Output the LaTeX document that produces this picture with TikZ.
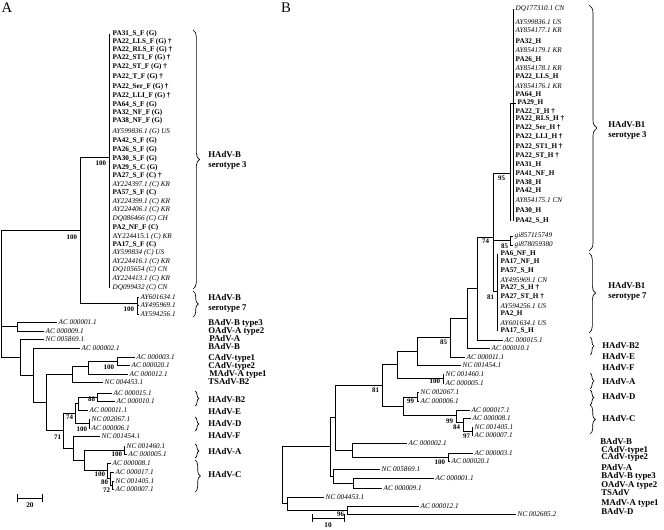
\documentclass[tikz,border=0pt]{standalone}
\usepackage{fontspec}
\setmainfont{Liberation Serif}
\usetikzlibrary{decorations.pathreplacing}

\begin{document}
\begin{tikzpicture}[x=0.75pt,y=0.75pt,yscale=-1,xscale=1,line width=0.55pt,
  every node/.style={inner sep=1pt},
  acc/.style={font=\fontsize{5.4}{6}\selectfont\itshape,anchor=west},
  iso/.style={font=\fontsize{5.4}{6}\selectfont\bfseries,anchor=west},
  boot/.style={font=\fontsize{5.2}{6}\selectfont\bfseries,anchor=east,inner sep=0.5pt},
  grp/.style={font=\fontsize{6.6}{7.6}\selectfont\bfseries,anchor=west,align=left,inner sep=0pt},
  clade/.style={decorate,decoration={brace,amplitude=#1},line width=0.5pt},
  clade/.default=4pt]
\useasboundingbox (0,0) rectangle (664,530);

% Panel letters
\node (capA) at (7,8) {\fontsize{11}{12}\selectfont A};
\node (capB) at (286,8) {\fontsize{11}{12}\selectfont B};

%%%%%%%%%%%%%%%%%%%%%%%%%%%%%%%% Panel A

% Text Node -- serotype 3 leaves
\node[iso] (a1) at (111,34) {PA31\_S\_F (G)};
\node[iso] (a2) at (111,42) {PA22\_LLS\_F (G) †};
\node[iso] (a3) at (111,50) {PA22\_RLS\_F (G) †};
\node[iso] (a4) at (111,58) {PA22\_ST1\_F (G) †};
\node[iso] (a5) at (111,67) {PA22\_ST\_F (G) †};
\node[iso] (a6) at (111,77) {PA22\_T\_F (G) †};
\node[iso] (a7) at (111,87) {PA22\_Ser\_F (G) †};
\node[iso] (a8) at (111,96) {PA22\_LLI\_F (G) †};
\node[iso] (a9) at (111,105) {PA64\_S\_F (G)};
\node[iso] (a10) at (111,113) {PA32\_NF\_F (G)};
\node[iso] (a11) at (111,121) {PA38\_NF\_F (G)};
\node[acc] (a12) at (111,132) {AY599836.1 (G) US};
\node[iso] (a13) at (111,141) {PA42\_S\_F (G)};
\node[iso] (a14) at (111,150) {PA26\_S\_F (G)};
\node[iso] (a15) at (111,159) {PA30\_S\_F (G)};
\node[iso] (a16) at (111,168) {PA29\_S\_C (G)};
\node[iso] (a17) at (111,176) {PA27\_S\_F (C) †};
\node[acc] (a18) at (111,185) {AY224397.1 (C) KR};
\node[iso] (a19) at (111,193) {PA57\_S\_F (C)};
\node[acc] (a20) at (111,202) {AY224399.1 (C) KR};
\node[acc] (a21) at (111,210) {AY224406.1 (C) KR};
\node[acc] (a22) at (111,219) {DQ086466 (C) CH};
\node[iso] (a23) at (111,228) {PA2\_NF\_F (C)};
\node[acc] (a24) at (111,237) {{\upshape AY224415.1} (C) KR};
\node[iso] (a25) at (111,245) {PA17\_S\_F (C)};
\node[acc] (a26) at (111,253) {AY599834 (C) US};
\node[acc] (a27) at (111,262) {AY224416.1 (C) KR};
\node[acc] (a28) at (111,270) {DQ105654 (C) CN};
\node[acc] (a29) at (111,279) {AY224413.1 (C) KR};
\node[acc] (a30) at (111,288) {DQ099432 (C) CN};
% Text Node -- other leaves
\node[acc] (a31) at (139,297) {AY601634.1};
\node[acc] (a32) at (139,305) {AY495969.1};
\node[acc] (a33) at (139,314) {AY594256.1};
\node[acc] (a34) at (57,322) {AC 000001.1};
\node[acc] (a35) at (44,331) {AC 000009.1};
\node[acc] (a36) at (44,339) {NC 005869.1};
\node[acc] (a37) at (80,348) {AC 000002.1};
\node[acc] (a38) at (103,382) {NC 004453.1};
\node[acc] (a39) at (128,374) {AC 000012.1};
\node[acc] (a40) at (135,357) {AC 000003.1};
\node[acc] (a41) at (130,365) {AC 000020.1};
\node[acc] (a42) at (88,410) {AC 000011.1};
\node[acc] (a43) at (112,393) {AC 000015.1};
\node[acc] (a44) at (115,401) {AC 000010.1};
\node[acc] (a45) at (90,419) {NC 002067.1};
\node[acc] (a46) at (90,428) {AC 000006.1};
\node[acc] (a47) at (100,436) {NC 001454.1};
\node[acc] (a48) at (125,446) {NC 001460.1};
\node[acc] (a49) at (127,454) {AC 000005.1};
\node[acc] (a50) at (111,463) {AC 000008.1};
\node[acc] (a51) at (114,472) {AC 000017.1};
\node[acc] (a52) at (114,481) {NC 001405.1};
\node[acc] (a53) at (114,489) {AC 000007.1};

% internal nodes
\coordinate (rA) at (1,293);
\coordinate (nBA) at (80,230);
\coordinate (c3) at (109,157);
\coordinate (c7) at (137,303);
\coordinate (n1) at (17,326);
\coordinate (n2) at (20,357);
\coordinate (n3) at (33,375);
\coordinate (n4) at (46,402);
\coordinate (n5) at (72,374);
\coordinate (n7) at (88,366);
\coordinate (n8) at (117,361);
\coordinate (n6) at (63,430);
\coordinate (n74) at (75,413);
\coordinate (nE) at (78,403);
\coordinate (n88) at (97,397);
\coordinate (nD) at (89,423);
\coordinate (nF) at (73,448);
\coordinate (nAC) at (84,460);
\coordinate (nA) at (124,450);
\coordinate (nC) at (107,470);
\coordinate (n80) at (110,478);
\coordinate (n72) at (112,485);

% Connection
\draw (rA) |- (nBA) (rA) |- (n1) (rA) |- (n2);
\draw (nBA) |- (c3) (nBA) |- (c7);
\draw (a1.west -| c3) -- (a30.west -| c3);
\draw (c7) |- (a31.west) (c7) |- (a32.west) (c7) |- (a33.west);
\draw (n1) |- (a34.west) (n1) |- (a35.west);
\draw (n2) |- (a36.west) (n2) |- (n3);
\draw (n3) |- (a37.west) (n3) |- (n4);
\draw (n4) |- (n5) (n4) |- (n6);
\draw (n5) |- (n7) (n5) |- (a38.west);
\draw (n7) |- (n8) (n7) |- (a39.west);
\draw (n8) |- (a40.west) (n8) |- (a41.west);
\draw (n6) |- (n74) (n6) |- (nF);
\draw (n74) |- (nE) (n74) |- (nD);
\draw (nE) |- (n88) (nE) |- (a42.west);
\draw (n88) |- (a43.west) (n88) |- (a44.west);
\draw (nD) |- (a45.west) (nD) |- (a46.west);
\draw (nF) |- (a47.west) (nF) |- (nAC);
\draw (nAC) |- (nA) (nAC) |- (nC);
\draw (nA) |- (a48.west) (nA) |- (a49.west);
\draw (nC) |- (a50.west) (nC) |- (n80);
\draw (n80) |- (a51.west) (n80) |- (n72);
\draw (n72) |- (a52.west) (n72) |- (a53.west);

% bootstrap values
\node[boot] (bA1) at (107,163) {100};
\node[boot] (bA2) at (78,237) {100};
\node[boot] (bA3) at (135,309) {100};
\node[boot] (bA4) at (115,367) {100};
\node[boot] (bA5) at (96,399) {88};
\node[boot] (bA6) at (74,417) {74};
\node[boot] (bA7) at (88,429) {100};
\node[boot] (bA8) at (62,437) {71};
\node[boot] (bA9) at (123,454) {100};
\node[boot] (bA10) at (106,474) {100};
\node[boot] (bA11) at (109,482) {80};
\node[boot] (bA12) at (111,490) {72};

% braces and groups
\draw[clade=5pt] (193,30) -- (193,289);
\draw[clade] (193,291) -- (193,317);
\draw[clade=3pt] (195,391) -- (195,406);
\draw[clade=3pt] (195,417) -- (195,431);
\draw[clade=3pt] (195,444) -- (195,458);
\draw[clade] (195,460) -- (195,492);
\node[grp] (gA1) at (208,160) {HAdV-B\\serotype 3};
\node[grp] (gA2) at (208,303) {HAdV-B\\serotype 7};
\node[grp] (gA3) at (208,323) {BAdV-B type3};
\node[grp] (gA4) at (208,331) {OAdV-A type2};
\node[grp] (gA5) at (209,339) {PAdV-A};
\node[grp] (gA6) at (208,347) {BAdV-B};
\node[grp] (gA7) at (208,358) {CAdV-type1};
\node[grp] (gA8) at (208,366) {CAdV-type2};
\node[grp] (gA9) at (209,374) {MAdV-A type1};
\node[grp] (gA10) at (208,382) {TSAdV-B2};
\node[grp] (gA11) at (208,400) {HAdV-B2};
\node[grp] (gA12) at (208,412) {HAdV-E};
\node[grp] (gA13) at (208,424) {HAdV-D};
\node[grp] (gA14) at (208,436) {HAdV-F};
\node[grp] (gA15) at (208,452) {HAdV-A};
\node[grp] (gA16) at (208,475) {HAdV-C};

% scale bar
\coordinate (sA1) at (17,498);
\coordinate (sA2) at (43,498);
\draw[|-|,line width=0.5pt] (sA1) -- (sA2);
\node[font=\fontsize{5.4}{6}\selectfont\bfseries] (sA) at (30,505) {20};

%%%%%%%%%%%%%%%%%%%%%%%%%%%%%%%% Panel B

% Text Node -- serotype 3 leaves
\node[acc] (h1) at (514,9) {DQ177310.1 CN};
\node[acc] (h2) at (514,22) {AY599836.1 US};
\node[acc] (h3) at (514,30) {AY854177.1 KR};
\node[iso] (h4) at (514,42) {PA32\_H};
\node[acc] (h5) at (514,50) {AY854179.1 KR};
\node[iso] (h6) at (514,60) {PA26\_H};
\node[acc] (h7) at (514,68) {AY854178.1 KR};
\node[iso] (h8) at (514,77) {PA22\_LLS\_H};
\node[acc] (h9) at (514,86) {AY854176.1 KR};
\node[iso] (h10) at (514,95) {PA64\_H};
\node[iso] (h11) at (516,103) {PA29\_H};
\node[iso] (h12) at (514,112) {PA22\_T\_H †};
\node[iso] (h13) at (514,119) {PA22\_RLS\_H †};
\node[iso] (h14) at (514,128) {PA22\_Ser\_H †};
\node[iso] (h15) at (514,137) {PA22\_LLI\_H †};
\node[iso] (h16) at (514,147) {PA22\_ST1\_H †};
\node[iso] (h17) at (514,156) {PA22\_ST\_H †};
\node[iso] (h18) at (514,165) {PA31\_H};
\node[iso] (h19) at (514,174) {PA41\_NF\_H};
\node[iso] (h20) at (514,183) {PA38\_H};
\node[iso] (h21) at (514,191) {PA42\_H};
\node[acc] (h22) at (514,200) {AY854175.1 CN};
\node[iso] (h23) at (514,211) {PA30\_H};
\node[iso] (h24) at (514,221) {PA42\_S\_H};
\node[acc] (h25) at (513,236) {gi857115749};
\node[acc] (h26) at (513,245) {gi878059380};
% Text Node -- serotype 7 leaves
\node[iso] (h27) at (499,254) {PA6\_NF\_H};
\node[iso] (h28) at (499,262) {PA17\_NF\_H};
\node[iso] (h29) at (499,271) {PA57\_S\_H};
\node[acc] (h30) at (499,280) {AY495969.1 CN};
\node[iso] (h31) at (499,288) {PA27\_S\_H †};
\node[iso] (h32) at (499,297) {PA27\_ST\_H †};
\node[acc] (h33) at (499,306) {AY594256.1 US};
\node[iso] (h34) at (499,314) {PA2\_H};
\node[acc] (h35) at (499,323) {AY601634.1 US};
\node[iso] (h36) at (499,331) {PA17\_S\_H};
% Text Node -- other leaves
\node[acc] (h37) at (503,340) {AC 000015.1};
\node[acc] (h38) at (490,348) {AC 000010.1};
\node[acc] (h39) at (465,357) {AC 000011.1};
\node[acc] (h40) at (461,365) {NC 001454.1};
\node[acc] (h41) at (444,374) {NC 001460.1};
\node[acc] (h42) at (444,383) {AC 000005.1};
\node[acc] (h43) at (419,392) {NC 002067.1};
\node[acc] (h44) at (419,401) {AC 000006.1};
\node[acc] (h45) at (470,410) {AC 000017.1};
\node[acc] (h46) at (471,418) {AC 000008.1};
\node[acc] (h47) at (473,427) {NC 001405.1};
\node[acc] (h48) at (473,435) {AC 000007.1};
\node[acc] (h49) at (407,443) {AC 000002.1};
\node[acc] (h50) at (473,453) {AC 000003.1};
\node[acc] (h51) at (450,461) {AC 000020.1};
\node[acc] (h52) at (380,469) {NC 005869.1};
\node[acc] (h53) at (434,478) {AC 000001.1};
\node[acc] (h54) at (382,488) {AC 000009.1};
\node[acc] (h55) at (324,497) {NC 004453.1};
\node[acc] (h56) at (419,506) {AC 000012.1};
\node[acc] (h57) at (516,514) {NC 002685.2};

% internal nodes
\coordinate (rB) at (282,475);
\coordinate (Ntop) at (330,446);
\coordinate (Nb) at (287,503);
\coordinate (N96) at (347,510);
\coordinate (N335) at (335,417);
\coordinate (N5869) at (333,476);
\coordinate (NAC1) at (353,483);
\coordinate (NAC2) at (352,450);
\coordinate (N100b) at (448,457);
\coordinate (N81) at (382,385);
\coordinate (NEFA) at (397,364);
\coordinate (NE2) at (417,351);
\coordinate (NA) at (443,378);
\coordinate (N85) at (450,337);
\coordinate (NX) at (467,318);
\coordinate (N74) at (477,288);
\coordinate (N95) at (493,237);
\coordinate (s3) at (510,173);
\coordinate (s3b) at (513,100);
\coordinate (sgi) at (510,240);
\coordinate (s7) at (497,291);
\coordinate (NDC) at (403,406);
\coordinate (ND) at (417,397);
\coordinate (N99) at (456,415);
\coordinate (N84) at (463,422);
\coordinate (N97) at (472,431);

% Connection
\draw (rB) |- (Ntop) (rB) |- (Nb);
\draw (Ntop) |- (N335) (Ntop) |- (N5869);
\draw (N335) |- (N81) (N335) |- (NAC2);
\draw (N81) |- (NEFA) (N81) |- (NDC);
\draw (NEFA) |- (NE2) (NEFA) |- (NA);
\draw (NE2) |- (N85) (NE2) |- (h40.west);
\draw (N85) |- (NX) (N85) |- (h39.west);
\draw (NX) |- (N74) (NX) |- (h38.west);
\draw (N74) |- (N95) (N74) |- (h37.west);
\draw (N95) |- (s3) (N95) |- (sgi) (N95) |- (s7);
\draw (h1.west -| s3b) -- (h24.west -| s3b);
\draw (h11.west -| s3) -- (h24.west -| s3);
\draw (h11.west -| s3) -- (h11.west);
\draw (sgi) |- (h25.west) (sgi) |- (h26.west);
\draw (h27.west -| s7) -- (h36.west -| s7);
\draw (NA) |- (h41.west) (NA) |- (h42.west);
\draw (NDC) |- (ND) (NDC) |- (N99);
\draw (ND) |- (h43.west) (ND) |- (h44.west);
\draw (N99) |- (h45.west) (N99) |- (N84);
\draw (N84) |- (h46.west) (N84) |- (N97);
\draw (N97) |- (h47.west) (N97) |- (h48.west);
\draw (NAC2) |- (h49.west) (NAC2) |- (N100b);
\draw (N100b) |- (h50.west) (N100b) |- (h51.west);
\draw (N5869) |- (h52.west) (N5869) |- (NAC1);
\draw (NAC1) |- (h53.west) (NAC1) |- (h54.west);
\draw (Nb) |- (h55.west) (Nb) |- (N96);
\draw (N96) |- (h56.west) (N96) |- (h57.west);

% bootstrap values
\node[boot] (bB1) at (506,178) {95};
\node[boot] (bB2) at (490,241) {74};
\node[boot] (bB3) at (509,246) {85};
\node[boot] (bB4) at (495,297) {81};
\node[boot] (bB5) at (448,342) {85};
\node[boot] (bB6) at (441,381) {100};
\node[boot] (bB7) at (380,390) {81};
\node[boot] (bB8) at (415,401) {99};
\node[boot] (bB9) at (454,421) {99};
\node[boot] (bB10) at (461,427) {84};
\node[boot] (bB11) at (471,436) {97};
\node[boot] (bB12) at (446,462) {100};
\node[boot] (bB13) at (345,514) {96};

% braces and groups
\draw[clade=6pt] (589,5) -- (589,251);
\draw[clade=5pt] (589,253) -- (589,333);
\draw[clade=3pt] (590,337) -- (590,355);
\draw[clade=3pt] (590,373) -- (590,389);
\draw[clade=3pt] (590,390) -- (590,405);
\draw[clade] (590,405) -- (590,434);
\node[grp] (gB1) at (608,130) {HAdV-B1\\serotype 3};
\node[grp] (gB2) at (608,291) {HAdV-B1\\serotype 7};
\node[grp] (gB3) at (602,346) {HAdV-B2};
\node[grp] (gB4) at (602,357) {HAdV-E};
\node[grp] (gB5) at (602,368) {HAdV-F};
\node[grp] (gB6) at (602,382) {HAdV-A};
\node[grp] (gB7) at (602,397) {HAdV-D};
\node[grp] (gB8) at (602,419) {HAdV-C};
\node[grp] (gB9) at (600,442) {BAdV-B};
\node[grp] (gB10) at (601,450) {CAdV-type1};
\node[grp] (gB11) at (601,457) {CAdV-type2};
\node[grp] (gB12) at (601,468) {PAdV-A};
\node[grp] (gB13) at (601,476) {BAdV-B type3};
\node[grp] (gB14) at (601,485) {OAdV-A type2};
\node[grp] (gB15) at (601,493) {TSAdV};
\node[grp] (gB16) at (601,503) {MAdV-A type1};
\node[grp] (gB17) at (601,512) {BAdV-D};

% scale bar
\coordinate (sB1) at (312,518);
\coordinate (sB2) at (345,518);
\draw[|-|,line width=0.5pt] (sB1) -- (sB2);
\node[font=\fontsize{5.4}{6}\selectfont\bfseries] (sB) at (328,525) {10};

\end{tikzpicture}
\end{document}
